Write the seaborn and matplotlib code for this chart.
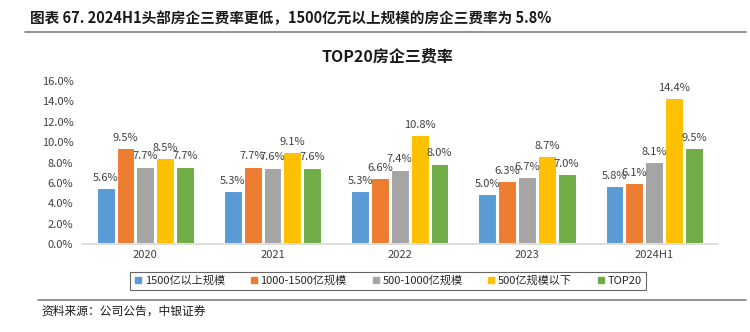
import matplotlib
matplotlib.use("Agg")
import matplotlib.pyplot as plt
import seaborn as sns
import pandas as pd
from matplotlib.lines import Line2D

sns.set_theme(style="white")
plt.rcParams['font.family'] = ['Noto Sans CJK SC', 'DejaVu Sans']

categories = ["2020", "2021", "2022", "2023", "2024H1"]
series_names = ["1500亿以上规模", "1000-1500亿规模", "500-1000亿规模", "500亿规模以下", "TOP20"]
s1 = [5.6, 5.3, 5.3, 5.0, 5.8]
s2 = [9.5, 7.7, 6.6, 6.3, 6.1]
s3 = [7.7, 7.6, 7.4, 6.7, 8.1]
s4 = [8.5, 9.1, 10.8, 8.7, 14.4]
s5 = [7.7, 7.6, 8.0, 7.0, 9.5]
yticks = [0, 2, 4, 6, 8, 10, 12, 14, 16]
colors = ["#5B9BD5", "#ED7D31", "#A5A5A5", "#FFC000", "#70AD47"]

rows = []
for name, vals in zip(series_names, [s1, s2, s3, s4, s5]):
    for c, v in zip(categories, vals):
        rows.append({"cat": c, "series": name, "value": v})
df = pd.DataFrame(rows)

fig = plt.figure(figsize=(7.5, 3.32), dpi=100)
ax = fig.add_axes([0.109, 0.265, 0.848, 0.491])
sns.barplot(data=df, x="cat", y="value", hue="series", order=categories,
            hue_order=series_names, palette=colors, width=0.78, saturation=1,
            edgecolor="white", linewidth=2.2, ax=ax, legend=False)

for cont in ax.containers:
    ax.bar_label(cont, labels=[f"{b.get_height():.1f}%" for b in cont],
                 padding=3, fontsize=8, color="#404040")

ax.set_ylim(0, 16)
ax.set_yticks(yticks)
ax.set_yticklabels([f"{t:.1f}%" for t in yticks], fontsize=8, color="#404040")
ax.set_xlabel("")
ax.set_ylabel("")
ax.tick_params(axis='x', labelsize=8, colors="#404040", length=0, pad=4)
ax.tick_params(axis='y', length=0, pad=6)
for s in ["left", "right", "top"]:
    ax.spines[s].set_visible(False)
ax.spines["bottom"].set_color("#D9D9D9")
ax.set_xlim(-0.5, 4.5)

handles = [Line2D([0], [0], marker='s', linestyle='', markerfacecolor=c,
                  markeredgecolor=c, markersize=5) for c in colors]
leg = fig.legend(handles, series_names, loc="center", bbox_to_anchor=(0.517, 0.154),
                 ncol=5, fontsize=8, frameon=True, fancybox=False,
                 handlelength=0.8, handletextpad=0.2, columnspacing=2.2,
                 borderpad=0.35)
leg.get_frame().set_edgecolor("#404040")
leg.get_frame().set_linewidth(0.8)

fig.text(0.04, 0.945, "图表 67. 2024H1头部房企三费率更低，1500亿元以上规模的房企三费率为 5.8%",
         fontsize=10.5, fontweight="bold", ha="left", va="center", color="#1a1a1a")
fig.add_artist(Line2D([0.033, 0.995], [0.905, 0.905], color="#7F7F7F", lw=1.2))
fig.text(0.517, 0.83, "TOP20房企三费率", fontsize=11.5, fontweight="bold",
         ha="center", va="center", color="#1a1a1a")
fig.add_artist(Line2D([0.05, 0.995], [0.097, 0.097], color="#7F7F7F", lw=1.2))
fig.text(0.055, 0.063, "资料来源：公司公告，中银证券", fontsize=8.5, style="italic",
         ha="left", va="center", color="#1a1a1a")

fig.savefig("out.png", dpi=100)
